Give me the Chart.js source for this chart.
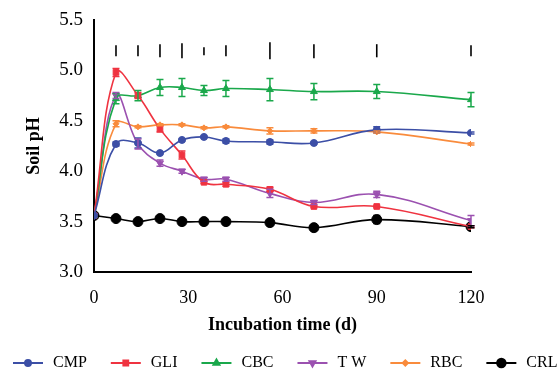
<!DOCTYPE html>
<html><head><meta charset="utf-8">
<script src="https://cdn.jsdelivr.net/npm/chart.js@4/dist/chart.umd.min.js"></script>
<style>html,body{margin:0;padding:0;background:#fff}#w{width:560px;height:371px}</style>
</head><body><div id="w"><canvas id="c" width="560" height="371"></canvas></div>
<script>
const days = [0, 7, 14, 21, 28, 35, 42, 56, 70, 90, 120];
const xTicks = [0, 30, 60, 90, 120];
const cmp = [3.56, 4.27, 4.28, 4.18, 4.31, 4.34, 4.30, 4.29, 4.28, 4.41, 4.38];
const cmpErr = [0, 0.02, 0.05, 0.01, 0.01, 0.01, 0.02, 0.02, 0.01, 0.03, 0.01];
const gli = [3.56, 4.98, 4.75, 4.42, 4.16, 3.89, 3.87, 3.82, 3.65, 3.65, 3.45];
const gliErr = [0, 0.04, 0.03, 0.03, 0.04, 0.01, 0.02, 0.02, 0.01, 0.01, 0.01];
const cbc = [3.56, 4.72, 4.75, 4.83, 4.83, 4.80, 4.82, 4.81, 4.79, 4.79, 4.71];
const cbcErr = [0, 0.05, 0.05, 0.08, 0.09, 0.05, 0.08, 0.11, 0.08, 0.07, 0.07];
const tw = [3.56, 4.75, 4.27, 4.08, 4.00, 3.92, 3.92, 3.78, 3.69, 3.77, 3.51];
const twErr = [0, 0.03, 0.05, 0.03, 0.02, 0.02, 0.02, 0.04, 0.02, 0.03, 0.05];
const rbc = [3.56, 4.47, 4.44, 4.46, 4.46, 4.43, 4.44, 4.40, 4.40, 4.39, 4.27];
const rbcErr = [0, 0.03, 0.01, 0.01, 0.01, 0.01, 0.01, 0.03, 0.02, 0.01, 0.01];
const crl = [3.56, 3.53, 3.50, 3.53, 3.50, 3.50, 3.50, 3.49, 3.44, 3.52, 3.45];
const crlErr = [0, 0.01, 0.01, 0.01, 0.01, 0.01, 0.01, 0.01, 0.01, 0.04, 0.01];
const sigDays = [7, 14, 21, 28, 35, 42, 56, 70, 90, 120];
const sigLow = [5.14, 5.14, 5.13, 5.12, 5.15, 5.14, 5.11, 5.12, 5.13, 5.14];
const sigHigh = [5.25, 5.25, 5.26, 5.27, 5.23, 5.25, 5.28, 5.26, 5.26, 5.25];

const serif = "'Liberation Serif','Times New Roman',serif";
const series = [
  {label:'CMP', data:cmp, err:cmpErr, color:'#3c4fa6', style:'circle', r:3.5, rot:0},
  {label:'GLI', data:gli, err:gliErr, color:'#ef3340', style:'rect', r:4, rot:0},
  {label:'CBC', data:cbc, err:cbcErr, color:'#1aa84b', style:'triangle', r:4, rot:0},
  {label:'T W', data:tw, err:twErr, color:'#9b51b0', style:'triangle', r:4, rot:180},
  {label:'RBC', data:rbc, err:rbcErr, color:'#f98b3c', style:'rectRot', r:3, rot:0},
  {label:'CRL', data:crl, err:crlErr, color:'#000000', style:'circle', r:5, rot:0}
];

const errorBars = {
  id:'errorBars',
  afterDatasetsDraw(chart){
    const ctx = chart.ctx, xs = chart.scales.x, ys = chart.scales.y;
    ctx.save();
    series.forEach(s=>{
      ctx.strokeStyle = s.color; ctx.lineWidth = 1.5;
      days.forEach((d,i)=>{
        const e = s.err[i]; if(!e) return;
        const x = xs.getPixelForValue(d);
        const y1 = ys.getPixelForValue(s.data[i]-e), y2 = ys.getPixelForValue(s.data[i]+e);
        ctx.beginPath();
        ctx.moveTo(x,y1); ctx.lineTo(x,y2);
        ctx.moveTo(x-3.5,y1); ctx.lineTo(x+3.5,y1);
        ctx.moveTo(x-3.5,y2); ctx.lineTo(x+3.5,y2);
        ctx.stroke();
      });
    });
    ctx.strokeStyle = '#000'; ctx.lineWidth = 1.6;
    sigDays.forEach((d,i)=>{
      const x = xs.getPixelForValue(d);
      ctx.beginPath();
      ctx.moveTo(x, ys.getPixelForValue(sigLow[i]));
      ctx.lineTo(x, ys.getPixelForValue(sigHigh[i]));
      ctx.stroke();
    });
    ctx.restore();
  }
};

// legend drawn along the bottom: line + marker + label
const bottomLegend = {
  id:'bottomLegend',
  afterDraw(chart){
    const ctx = chart.ctx;
    ctx.save();
    ctx.font = "16px " + serif;
    ctx.textBaseline = 'middle';
    const y = 363, lineLen = 30, textGap = 10, itemGap = 24;
    let x = 13;
    series.forEach(s=>{
      ctx.strokeStyle = s.color; ctx.lineWidth = 2;
      ctx.beginPath(); ctx.moveTo(x, y); ctx.lineTo(x+lineLen, y); ctx.stroke();
      ctx.fillStyle = s.color;
      Chart.helpers.drawPoint(ctx, {pointStyle:s.style, radius:s.r*0.85, rotation:s.rot, borderWidth:1}, x+lineLen/2, y);
      ctx.fill();
      ctx.fillStyle = '#000';
      const tx = x + lineLen + textGap;
      ctx.fillText(s.label, tx, y);
      x = tx + ctx.measureText(s.label).width + itemGap;
    });
    ctx.restore();
  }
};

new Chart(document.getElementById('c'), {
  type:'line',
  data:{
    datasets: series.map(s=>({
      label:s.label,
      data: days.map((d,i)=>({x:d, y:s.data[i]})),
      borderColor:s.color, backgroundColor:s.color,
      borderWidth:1.6, tension:0.4,
      pointStyle:s.style, pointRadius:s.r, pointRotation:s.rot,
      pointBorderWidth:1
    }))
  },
  options:{
    responsive:false, animation:false,
    layout:{padding:{left:0, right:89, top:20, bottom:0}},
    plugins:{ tooltip:{enabled:false}, legend:{display:false} },
    scales:{
      x:{
        type:'linear', min:0, max:120,
        afterBuildTicks(sc){ sc.ticks = xTicks.map(v=>({value:v})); },
        afterFit(sc){ sc.height = 99; },
        grid:{display:false, drawTicks:true, tickLength:8, tickColor:'#000', tickWidth:2},
        border:{color:'#000', width:2},
        ticks:{color:'#000', font:{family:serif, size:18}, padding:7, maxRotation:0},
        title:{display:true, text:'Incubation time (d)', color:'#000', font:{family:serif, size:18, weight:'bold'}, padding:{top:0, bottom:35}}
      },
      y:{
        min:3.0, max:5.5,
        afterFit(sc){ sc.width = 94; },
        grid:{display:false, drawTicks:true, tickLength:7, tickColor:'#000', tickWidth:2},
        border:{color:'#000', width:2},
        ticks:{stepSize:0.5, color:'#000', font:{family:serif, size:19}, padding:4, callback:v=>v.toFixed(1)},
        title:{display:true, text:'Soil pH', color:'#000', font:{family:serif, size:18, weight:'bold'}, padding:{top:24,bottom:0}}
      }
    }
  },
  plugins:[errorBars, bottomLegend]
});
</script></body></html>
